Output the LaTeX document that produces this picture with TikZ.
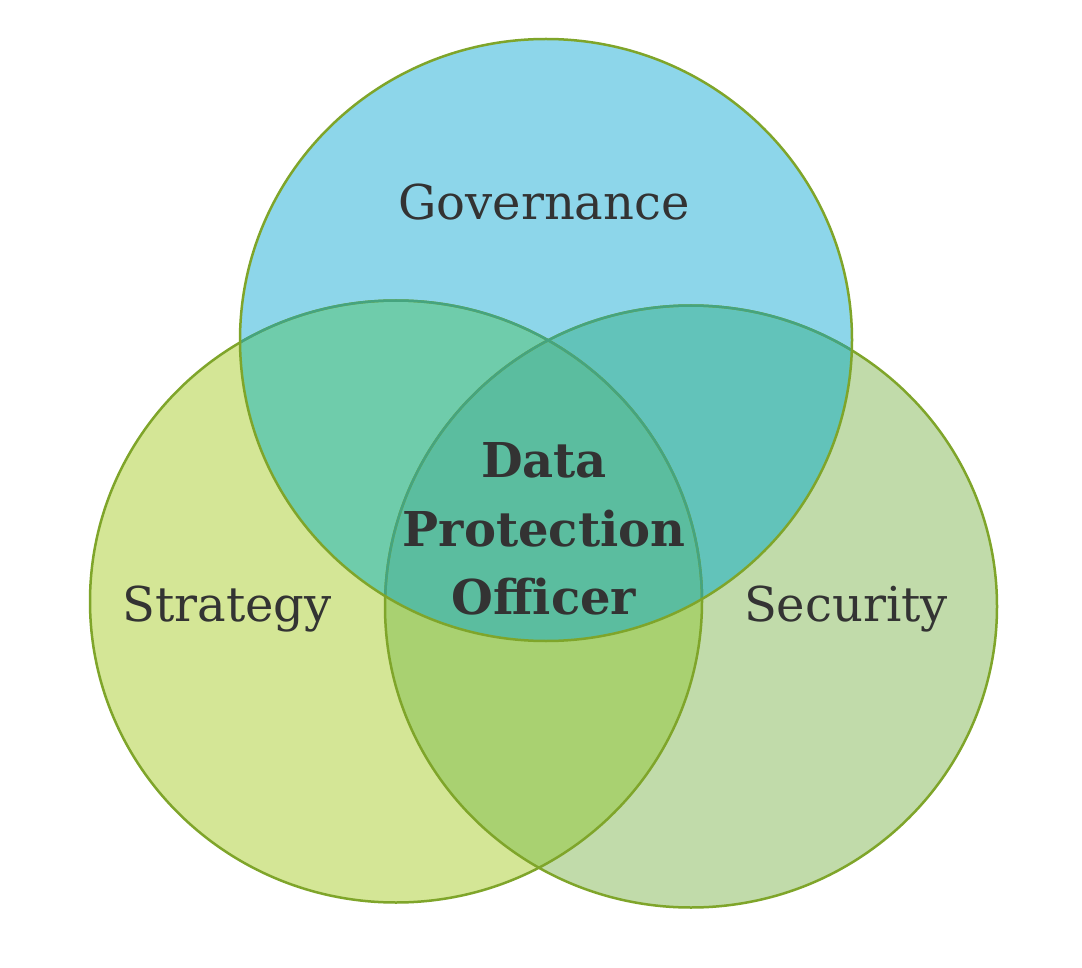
\documentclass[tikz,border=0pt]{standalone}
\usepackage{fontspec}
\setmainfont{DejaVu Serif}
\definecolor{cTop}{HTML}{8DD6EA}
\definecolor{cLeft}{HTML}{D4E696}
\definecolor{cRight}{HTML}{C1DBAA}
\definecolor{cLR}{HTML}{A9D171}
\definecolor{cTL}{HTML}{6FCCAB}
\definecolor{cTR}{HTML}{62C3BA}
\definecolor{cAll}{HTML}{5BBD9F}
\definecolor{cRim}{HTML}{7FA52A}
\definecolor{cRimIn}{HTML}{45A47F}
\definecolor{cText}{HTML}{333333}
\tikzset{
  rr/.style={x radius=306pt, y radius=301pt},
  rim/.style={draw=cRim, line width=2.5pt},
  label/.style={text=cText, anchor=base, inner sep=0pt, font=\fontsize{48}{56}\selectfont},
  core/.style={text=cText, anchor=base, inner sep=0pt, font=\fontsize{48}{56}\selectfont\bfseries}
}
\begin{document}
\begin{tikzpicture}[x=1pt,y=-1pt]
\useasboundingbox (0,0) rectangle (1082,968);
\fill[white] (0,0) rectangle (1082,968);
\coordinate (G) at (546,340);
\coordinate (S) at (396,601.5);
\coordinate (C) at (691,606.5);
% base fills
\fill[cLeft] (S) ellipse[rr];
\fill[cRight] (C) ellipse[rr];
\begin{scope}
  \clip (S) ellipse[rr];
  \fill[cLR] (C) ellipse[rr];
\end{scope}
\fill[cTop] (G) ellipse[rr];
\begin{scope}
  \clip (G) ellipse[rr];
  \fill[cTL] (S) ellipse[rr];
  \fill[cTR] (C) ellipse[rr];
  \clip (S) ellipse[rr];
  \fill[cAll] (C) ellipse[rr];
\end{scope}
% outlines
\draw[rim] (S) ellipse[rr];
\draw[rim] (C) ellipse[rr];
\begin{scope}
  \clip (G) ellipse[rr];
  \draw[rim, draw=cRimIn] (S) ellipse[rr];
  \draw[rim, draw=cRimIn] (C) ellipse[rr];
\end{scope}
\draw[rim] (G) ellipse[rr];
% labels
\node[label] (gov) at (544,220) {Governance};
\node[label] (str) at (227,621) {Strategy};
\node[label] (sec) at (846,621) {Security};
\node[core] (d1) at (544,477) {Data};
\node[core] (d2) at (544,546) {Protection};
\node[core] (d3) at (544,614) {Officer};
\end{tikzpicture}
\end{document}
